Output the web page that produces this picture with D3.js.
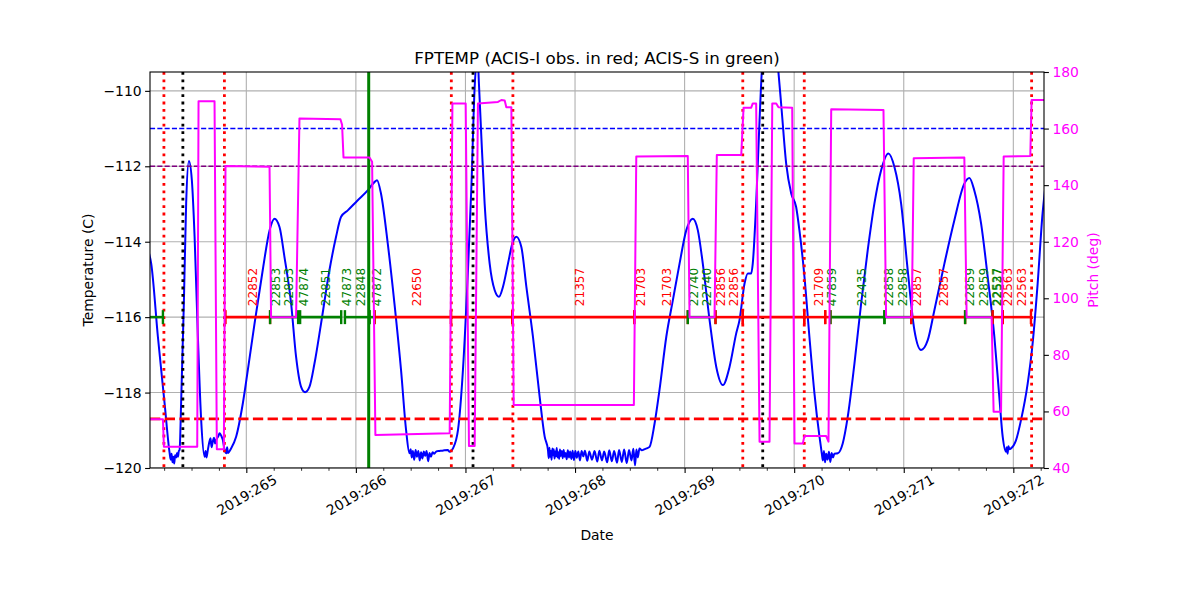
<!DOCTYPE html>
<html><head><meta charset="utf-8">
<script src="https://cdn.jsdelivr.net/npm/d3@7"></script>
<style>body{margin:0;background:#fff} text{font-family:"DejaVu Sans",sans-serif}</style>
</head><body><svg id="c" width="1200" height="600"></svg>
<script>
// ---------------- data ----------------
const xDomain = [264.121, 272.280];
const xMajor = [265, 266, 267, 268, 269, 270, 271, 272];
const xMinor = [264.25, 264.5, 264.75, 265.25, 265.5, 265.75, 266.25, 266.5, 266.75, 267.25, 267.5, 267.75,
  268.25, 268.5, 268.75, 269.25, 269.5, 269.75, 270.25, 270.5, 270.75, 271.25, 271.5, 271.75, 272.25];
const yTicksLeft = [-120, -118, -116, -114, -112, -110];
const yTicksRight = [40, 60, 80, 100, 120, 140, 160, 180];

// FPTEMP temperature (DOY, deg C)
const tempSeries = [
 [264.100,-114.20],[264.132,-114.58],[264.193,-116.52],[264.254,-118.28],[264.300,-119.60],
 [264.310,-119.78],[264.318,-119.62],[264.326,-119.85],[264.334,-119.70],[264.342,-119.88],
 [264.350,-119.66],[264.360,-119.72],[264.368,-119.60],[264.376,-119.70],[264.384,-119.55],
 [264.391,-119.52],[264.405,-118.28],[264.430,-115.63],[264.451,-112.98],[264.476,-111.86],
 [264.503,-112.37],[264.528,-113.87],[264.558,-116.52],[264.588,-118.73],[264.619,-119.70],
 [264.628,-119.55],[264.636,-119.72],[264.649,-119.52],[264.673,-119.21],[264.683,-119.45],
 [264.694,-119.30],[264.705,-119.20],[264.715,-119.35],[264.725,-119.26],[264.745,-119.15],
 [264.756,-119.08],[264.776,-119.18],[264.786,-119.26],[264.800,-119.50],[264.816,-119.61],
 [264.825,-119.45],[264.832,-119.60],[264.861,-119.48],[264.907,-119.17],[264.968,-118.29],
 [265.014,-117.40],[265.075,-116.17],[265.150,-114.75],[265.212,-113.70],[265.257,-113.39],
 [265.303,-113.61],[265.348,-114.40],[265.409,-115.64],[265.454,-117.05],[265.500,-117.85],
 [265.536,-117.99],[265.576,-117.85],[265.622,-117.23],[265.682,-116.17],[265.759,-114.75],
 [265.819,-113.87],[265.865,-113.34],[265.926,-113.17],[266.017,-112.90],[266.108,-112.64],
 [266.169,-112.42],[266.193,-112.37],[266.229,-112.72],[266.291,-114.05],[266.352,-115.64],
 [266.412,-117.40],[266.458,-118.99],[266.489,-119.61],[266.500,-119.50],[266.510,-119.72],
 [266.520,-119.55],[266.532,-119.78],[266.545,-119.52],[266.557,-119.70],[266.570,-119.55],
 [266.582,-119.80],[266.595,-119.58],[266.607,-119.75],[266.620,-119.56],[266.632,-119.68],
 [266.645,-119.55],[266.660,-119.82],[266.672,-119.60],[266.685,-119.70],[266.700,-119.58],
 [266.715,-119.62],[266.735,-119.56],[266.760,-119.55],[266.790,-119.54],[266.838,-119.52],
 [266.856,-119.57],[266.886,-119.48],[266.932,-118.99],[266.977,-117.40],[267.023,-114.75],
 [267.054,-112.55],[267.084,-109.90],[267.111,-109.10],[267.123,-109.81],[267.145,-111.22],
 [267.175,-112.99],[267.221,-114.58],[267.266,-115.28],[267.306,-115.46],[267.342,-115.20],
 [267.388,-114.58],[267.428,-114.05],[267.464,-113.87],[267.510,-114.14],[267.556,-115.20],
 [267.616,-116.52],[267.677,-118.11],[267.723,-119.17],[267.753,-119.52],[267.760,-119.74],
 [267.766,-119.46],[267.773,-119.70],[267.780,-119.55],[267.786,-119.78],[267.793,-119.48],
 [267.800,-119.66],[267.806,-119.50],[267.813,-119.75],[267.820,-119.56],[267.826,-119.69],
 [267.833,-119.47],[267.840,-119.72],[267.848,-119.58],[267.855,-119.76],[267.862,-119.51],
 [267.870,-119.68],[267.879,-119.55],[267.888,-119.74],[267.896,-119.52],[267.905,-119.70],
 [267.914,-119.60],[267.924,-119.77],[267.934,-119.53],[267.945,-119.72],[267.955,-119.56],
 [267.966,-119.76],[267.978,-119.54],[267.990,-119.79],[268.003,-119.55],[268.016,-119.73],
 [268.030,-119.56],[268.045,-119.80],[268.060,-119.55],[268.076,-119.69],[268.090,-119.54],
 [268.112,-119.81],[268.130,-119.56],[268.155,-119.78],[268.178,-119.55],[268.203,-119.83],
 [268.222,-119.54],[268.246,-119.80],[268.266,-119.56],[268.293,-119.85],[268.312,-119.53],
 [268.336,-119.82],[268.357,-119.55],[268.383,-119.86],[268.402,-119.52],[268.427,-119.84],
 [268.448,-119.51],[268.472,-119.87],[268.493,-119.52],[268.515,-119.80],[268.532,-119.49],
 [268.548,-119.93],[268.560,-119.51],[268.573,-119.72],[268.588,-119.48],[268.610,-119.53],
 [268.635,-119.50],[268.653,-119.48],
 [268.680,-119.44],[268.726,-118.82],[268.771,-117.93],[268.833,-116.52],[268.893,-115.55],
 [268.954,-114.58],[269.015,-113.70],[269.075,-113.39],[269.121,-113.70],[269.166,-114.58],
 [269.228,-116.08],[269.289,-117.32],[269.349,-117.80],[269.410,-117.32],[269.471,-116.43],
 [269.501,-116.08],[269.547,-115.11],[269.577,-114.84],[269.608,-114.84],[269.622,-114.58],
 [269.653,-112.98],[269.684,-110.78],[269.705,-109.46],[269.775,-107.80],[269.855,-109.46],
 [269.886,-110.52],[269.927,-111.93],[269.973,-112.72],[270.018,-113.08],[270.048,-113.70],
 [270.094,-114.93],[270.139,-116.52],[270.185,-118.02],[270.231,-119.17],[270.252,-119.61],
 [270.262,-119.80],[270.272,-119.55],[270.282,-119.85],[270.292,-119.62],[270.305,-119.78],
 [270.317,-119.57],[270.330,-119.84],[270.342,-119.60],[270.355,-119.72],[270.367,-119.62],
 [270.398,-119.61],[270.443,-119.35],[270.489,-118.64],[270.550,-117.23],[270.611,-115.64],
 [270.671,-114.23],[270.732,-112.99],[270.793,-112.11],[270.860,-111.66],[270.915,-112.02],
 [270.976,-112.99],[271.036,-114.75],[271.097,-116.34],[271.158,-116.87],[271.219,-116.61],
 [271.280,-115.81],[271.371,-114.58],[271.462,-113.43],[271.553,-112.46],[271.599,-112.31],
 [271.644,-112.64],[271.706,-113.52],[271.766,-114.93],[271.827,-116.52],[271.872,-118.11],
 [271.903,-119.17],[271.934,-119.57],[271.940,-119.45],[271.948,-119.62],[271.955,-119.42],
 [271.965,-119.50],[271.979,-119.48],[272.025,-119.26],[272.070,-118.73],[272.131,-117.76],
 [272.176,-116.70],[272.222,-115.11],[272.267,-113.25],[272.290,-112.60]
];

// Pitch (DOY, deg)
const pitchSeries = [
 [264.100,57.2],[264.239,57.2],[264.248,47.5],[264.552,47.5],[264.564,169.7],[264.710,169.7],
 [264.731,46.6],[264.795,46.6],[264.810,146.8],[265.212,146.5],[265.226,93.3],[265.454,93.3],
 [265.485,163.6],[265.859,163.3],[265.874,161.3],[265.887,149.8],[266.124,149.8],[266.148,148.3],
 [266.178,51.7],[266.856,52.3],[266.881,168.9],[267.002,168.9],[267.032,47.8],[267.084,47.8],
 [267.114,168.9],[267.297,169.4],[267.328,170.1],[267.358,169.9],[267.373,167.5],[267.419,167.5],
 [267.440,62.3],[268.537,62.3],[268.559,150.1],[269.029,150.3],[269.045,93.3],[269.273,93.3],
 [269.294,150.7],[269.517,150.7],[269.538,167.4],[269.608,167.4],[269.622,168.9],[269.653,168.9],
 [269.684,49.3],[269.775,49.3],[269.800,168.9],[269.836,168.9],[269.857,167.5],[269.982,167.4],
 [270.003,48.7],[270.079,48.7],[270.094,51.3],[270.292,51.3],[270.313,49.3],[270.338,166.8],
 [270.815,166.6],[270.839,93.3],[271.073,93.3],[271.091,149.5],[271.553,149.8],[271.574,93.3],
 [271.802,93.3],[271.820,59.9],[271.888,59.9],[271.912,150.1],[272.155,150.3],[272.167,170.1],
 [272.300,170.1]
];

// Observations (ACIS-I = "I" red, ACIS-S = "S" green)
const obsStart = [264.000,264.810,265.217,265.491,265.900,266.124,266.170,266.868,267.428,268.541,269.029,269.282,269.531,270.092,270.283,270.331,270.824,271.068,271.560,271.811,271.904];
const obsEnd   = [264.239,265.217,265.473,265.866,266.124,266.170,266.868,267.428,268.541,269.029,269.282,269.531,270.092,270.283,270.331,270.824,271.068,271.560,271.811,271.904,272.161];
const obsInst  = ["S","I","S","S","S","S","I","I","I","I","S","I","I","I","I","S","S","I","S","I","I"];
const obsLevel = -116;

const labelDoy  = [265.060,265.272,265.394,265.530,265.727,265.919,266.047,266.190,266.558,268.042,268.598,268.842,269.082,269.206,269.334,269.453,270.231,270.343,270.620,270.869,270.997,271.122,271.364,271.608,271.729,271.853,271.860,271.948,272.076];
const labelText = ["22852","22853","22853","47874","22851","47873","22848","47872","22650","21357","21703","21703","22740","22740","22856","22856","21709","47859","22435","22858","22858","22857","22857","22859","22859","22527","22537","22563","22563"];
const labelInst = ["I","S","S","S","S","S","S","S","I","I","I","I","S","S","I","I","I","S","S","S","S","I","I","S","S","S","S","I","I"];

const redDotted = [264.248,264.800,266.871,267.433,269.531,270.092,272.167];
const blackDotted = [264.421,267.069,269.713];
const greenSolid = [266.117];
const hLineVals = [-111, -112, -118.7];
const hLineColors = ["#0000ff", "#800080", "#ff0000"];

const instColor = {I: "#ff0000", S: "#008000"};

// ---------------- drawing ----------------
const W = 1200, H = 600, L = 150, R = 1044, T = 72, B = 468;
const svg = d3.select("#c");
svg.append("rect").attr("width", W).attr("height", H).attr("fill", "#fff");

const x = d3.scaleLinear().domain(xDomain).range([L, R]);
const y = d3.scaleLinear().domain([-120, -109.5]).range([B, T]);
const y2 = d3.scaleLinear().domain([40, 180]).range([B, T]);

svg.append("defs").append("clipPath").attr("id", "clip")
  .append("rect").attr("x", L).attr("y", T).attr("width", R - L).attr("height", B - T);

const plot = svg.append("g").attr("clip-path", "url(#clip)");

// grid
plot.append("g").selectAll("line").data(xMajor).join("line")
  .attr("x1", d => x(d)).attr("x2", d => x(d)).attr("y1", T).attr("y2", B)
  .attr("stroke", "#b0b0b0").attr("stroke-width", 1.1);
plot.append("g").selectAll("line").data(yTicksLeft).join("line")
  .attr("x1", L).attr("x2", R).attr("y1", d => y(d)).attr("y2", d => y(d))
  .attr("stroke", "#b0b0b0").attr("stroke-width", 1.1);

// temperature curve
plot.append("path").datum(tempSeries)
  .attr("d", d3.line().curve(d3.curveMonotoneX).x(d => x(d[0])).y(d => y(d[1])))
  .attr("fill", "none").attr("stroke", "#0000ff").attr("stroke-width", 2).attr("stroke-linejoin", "round");

// horizontal reference lines
plot.append("g").selectAll("line").data(hLineVals).join("line")
  .attr("x1", L).attr("x2", R).attr("y1", d => y(d)).attr("y2", d => y(d))
  .attr("stroke", (d, i) => hLineColors[i])
  .attr("stroke-width", (d, i) => i === 2 ? 2.8 : 1.4)
  .attr("stroke-dasharray", (d, i) => i === 2 ? "10.3,4.4" : "5.1,2.2");

// vertical lines
plot.append("g").selectAll("line").data(redDotted).join("line")
  .attr("x1", d => x(d)).attr("x2", d => x(d)).attr("y1", T).attr("y2", B)
  .attr("stroke", "#ff0000").attr("stroke-width", 2.8).attr("stroke-dasharray", "2.8,4.6");
plot.append("g").selectAll("line").data(blackDotted).join("line")
  .attr("x1", d => x(d)).attr("x2", d => x(d)).attr("y1", T).attr("y2", B)
  .attr("stroke", "#000").attr("stroke-width", 2.8).attr("stroke-dasharray", "2.8,4.6");
plot.append("g").selectAll("line").data(greenSolid).join("line")
  .attr("x1", d => x(d)).attr("x2", d => x(d)).attr("y1", T).attr("y2", B)
  .attr("stroke", "#008000").attr("stroke-width", 3);

// observation segments
const obsIdx = d3.range(obsStart.length);
const og = plot.append("g");
og.selectAll("line.seg").data(obsIdx).join("line").attr("class", "seg")
  .attr("x1", i => x(obsStart[i])).attr("x2", i => x(obsEnd[i]))
  .attr("y1", y(obsLevel)).attr("y2", y(obsLevel))
  .attr("stroke", i => instColor[obsInst[i]]).attr("stroke-width", 2.6);
const ends = obsIdx.flatMap(i => [[obsStart[i], obsInst[i]], [obsEnd[i], obsInst[i]]]);
og.selectAll("line.tk").data(ends).join("line").attr("class", "tk")
  .attr("x1", d => x(d[0])).attr("x2", d => x(d[0]))
  .attr("y1", y(obsLevel) - 7).attr("y2", y(obsLevel) + 7)
  .attr("stroke", d => instColor[d[1]]).attr("stroke-width", 2.4);

// observation labels
const ly = y(obsLevel) - 11;
plot.append("g").selectAll("text").data(d3.range(labelText.length)).join("text")
  .attr("transform", i => `translate(${x(labelDoy[i])},${ly}) rotate(-90)`)
  .attr("dominant-baseline", "central")
  .attr("text-anchor", "start")
  .attr("font-size", 12)
  .attr("fill", i => instColor[labelInst[i]])
  .text(i => labelText[i]);

// pitch curve
plot.append("path").datum(pitchSeries)
  .attr("d", d3.line().x(d => x(d[0])).y(d => y2(d[1])))
  .attr("fill", "none").attr("stroke", "#ff00ff").attr("stroke-width", 2).attr("stroke-linejoin", "round");

// axes
const fs = 13.9;
const xAxis = svg.append("g").attr("transform", `translate(0,${B})`)
  .call(d3.axisBottom(x).tickValues(xMajor).tickFormat(d => "2019:" + d).tickSize(4.9).tickSizeOuter(0));
xAxis.select(".domain").remove();
xAxis.attr("font-size", fs).attr("font-family", "DejaVu Sans");
xAxis.selectAll(".tick line").attr("stroke-width", 1.1);
xAxis.selectAll(".tick text").attr("y", 0).attr("dy", "0.35em")
  .attr("transform", "translate(0,27) rotate(-30)").attr("text-anchor", "middle").attr("fill", "#000");
const xMinorAxis = svg.append("g").attr("transform", `translate(0,${B})`)
  .call(d3.axisBottom(x).tickValues(xMinor).tickFormat("").tickSize(2.8).tickSizeOuter(0));
xMinorAxis.select(".domain").remove();
xMinorAxis.selectAll(".tick line").attr("stroke-width", 0.8);

const yAxis = svg.append("g").attr("transform", `translate(${L},0)`)
  .call(d3.axisLeft(y).tickValues(yTicksLeft).tickFormat(d3.format("d")).tickSize(4.9).tickPadding(3.5).tickSizeOuter(0));
yAxis.select(".domain").remove();
yAxis.attr("font-size", fs).attr("font-family", "DejaVu Sans");
yAxis.selectAll(".tick line").attr("stroke-width", 1.1);
yAxis.selectAll(".tick text").attr("fill", "#000");

const y2Axis = svg.append("g").attr("transform", `translate(${R},0)`)
  .call(d3.axisRight(y2).tickValues(yTicksRight).tickFormat(d3.format("d")).tickSize(4.9).tickPadding(3.5).tickSizeOuter(0));
y2Axis.select(".domain").remove();
y2Axis.attr("font-size", fs).attr("font-family", "DejaVu Sans");
y2Axis.selectAll(".tick line").attr("stroke-width", 1.1);
y2Axis.selectAll(".tick text").attr("fill", "#ff00ff");

// spines
svg.append("rect").attr("x", L).attr("y", T).attr("width", R - L).attr("height", B - T)
  .attr("fill", "none").attr("stroke", "#000").attr("stroke-width", 1.1);

// titles
svg.append("text").attr("x", (L + R) / 2).attr("y", 64).attr("text-anchor", "middle")
  .attr("font-size", 16.7).text("FPTEMP (ACIS-I obs. in red; ACIS-S in green)");
svg.append("text").attr("x", (L + R) / 2).attr("y", 540).attr("text-anchor", "middle")
  .attr("font-size", fs).text("Date");
svg.append("text").attr("transform", `translate(88,${(T + B) / 2}) rotate(-90)`)
  .attr("text-anchor", "middle").attr("dominant-baseline", "central")
  .attr("font-size", fs).text("Temperature (C)");
svg.append("text").attr("transform", `translate(1093,${(T + B) / 2}) rotate(-90)`)
  .attr("text-anchor", "middle").attr("dominant-baseline", "central")
  .attr("font-size", fs).attr("fill", "#ff00ff").text("Pitch (deg)");
</script></body></html>
